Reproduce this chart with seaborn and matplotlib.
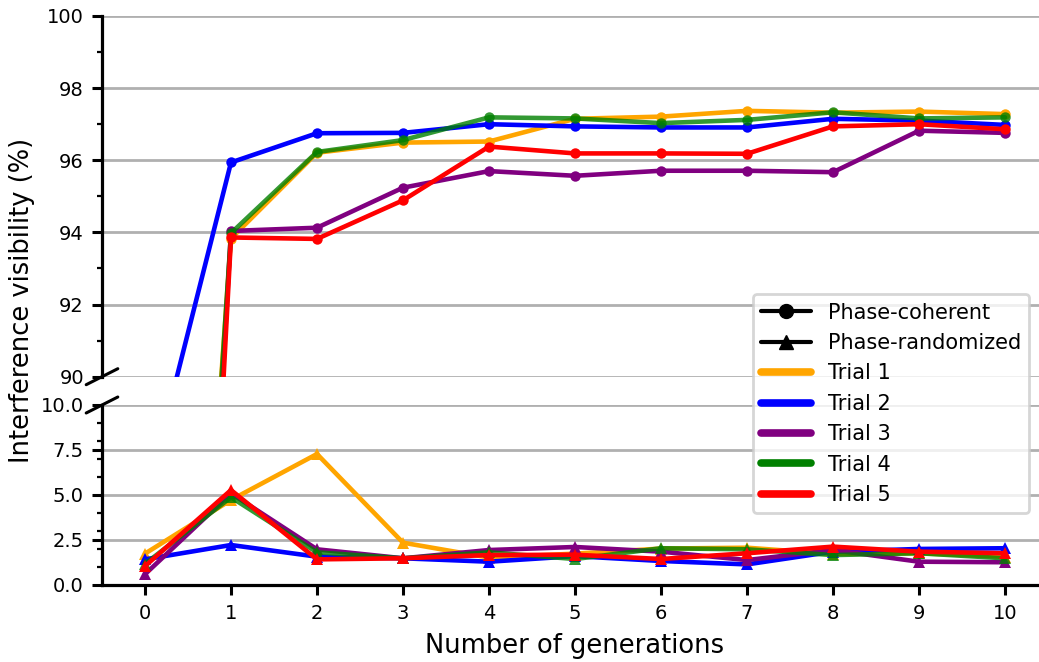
import numpy as np
import pandas as pd
import matplotlib
matplotlib.use("Agg")
import matplotlib.pyplot as plt
from matplotlib.lines import Line2D
from matplotlib.ticker import MultipleLocator
import seaborn as sns

# ---------------- data ----------------
generations = [0, 1, 2, 3, 4, 5, 6, 7, 8, 9, 10]
trial_names = ["Trial 1", "Trial 2", "Trial 3", "Trial 4", "Trial 5"]
trial_colors = ["orange", "blue", "purple", "green", "red"]

# Phase-coherent visibility (%)
coh_t1 = [60.0, 93.83, 96.21, 96.49, 96.52, 97.15, 97.21, 97.37, 97.32, 97.35, 97.28]
coh_t2 = [86.5, 95.94, 96.75, 96.76, 97.00, 96.94, 96.91, 96.91, 97.15, 97.10, 96.98]
coh_t3 = [52.0, 94.04, 94.13, 95.24, 95.70, 95.57, 95.71, 95.71, 95.67, 96.82, 96.76]
coh_t4 = [57.5, 93.98, 96.23, 96.56, 97.19, 97.16, 97.03, 97.12, 97.33, 97.16, 97.19]
coh_t5 = [49.0, 93.86, 93.82, 94.89, 96.38, 96.19, 96.19, 96.18, 96.94, 97.00, 96.86]

# Phase-randomized visibility (%)
rnd_t1 = [1.72, 4.71, 7.27, 2.33, 1.50, 1.72, 2.00, 2.05, 1.70, 1.74, 1.55]
rnd_t2 = [1.40, 2.20, 1.55, 1.46, 1.27, 1.58, 1.31, 1.12, 1.83, 1.98, 2.02]
rnd_t3 = [0.57, 5.08, 1.96, 1.46, 1.92, 2.09, 1.83, 1.36, 1.92, 1.27, 1.24]
rnd_t4 = [1.15, 4.86, 1.79, 1.46, 1.79, 1.42, 2.02, 1.96, 1.64, 1.74, 1.46]
rnd_t5 = [1.02, 5.26, 1.40, 1.46, 1.64, 1.66, 1.42, 1.74, 2.11, 1.83, 1.74]

coh_all = [coh_t1, coh_t2, coh_t3, coh_t4, coh_t5]
rnd_all = [rnd_t1, rnd_t2, rnd_t3, rnd_t4, rnd_t5]

top_yticks = [90, 92, 94, 96, 98, 100]
bot_yticks = [0.0, 2.5, 5.0, 7.5, 10.0]

# ---------------- style ----------------
sns.set_style("white")
plt.rcParams["font.family"] = ["DejaVu Sans"]
for key in ["text.color", "axes.labelcolor", "xtick.color", "ytick.color", "axes.edgecolor"]:
    plt.rcParams[key] = "black"

W, H = 1039, 662
fig = plt.figure(figsize=(W / 100, H / 100), dpi=100)
left_px, right_px = 102, 1048
ax_top = fig.add_axes([left_px / W, 1 - 376.7 / H, (right_px - left_px) / W, (376.7 - 16) / H])
ax_bot = fig.add_axes([left_px / W, 1 - 584.5 / H, (right_px - left_px) / W, (584.5 - 405) / H])

grid_col = "#b0b0b0"
alphas = [1, 1, 1, 0.8, 1]

for name, col, a, ycoh, yrnd in zip(trial_names, trial_colors, alphas, coh_all, rnd_all):
    df_c = pd.DataFrame({"gen": generations, "vis": ycoh})
    df_r = pd.DataFrame({"gen": generations, "vis": yrnd})
    sns.lineplot(data=df_c, x="gen", y="vis", ax=ax_top, color=col, alpha=a,
                 marker="o", markersize=7.5, markeredgewidth=0, linewidth=3.3,
                 legend=False, zorder=3)
    sns.lineplot(data=df_r, x="gen", y="vis", ax=ax_bot, color=col, alpha=a,
                 marker="^", markersize=8.5, markeredgewidth=0, linewidth=3.3,
                 legend=False, zorder=3)

for ax in (ax_top, ax_bot):
    ax.set_xlim(-0.5, 10.5)
    ax.set_xlabel("")
    ax.set_ylabel("")
    ax.yaxis.grid(True, color=grid_col, linewidth=2.0)
    ax.xaxis.grid(False)
    ax.set_axisbelow(True)
    ax.spines["right"].set_visible(False)
    ax.spines["top"].set_visible(False)
    ax.spines["left"].set_linewidth(2.3)
    ax.spines["bottom"].set_linewidth(2.3)
    ax.spines["left"].set_color("black")
    ax.spines["bottom"].set_color("black")
    ax.tick_params(axis="y", which="major", length=7, width=2.2, labelsize=14,
                   pad=6, color="black", labelcolor="black", left=True)
    ax.tick_params(axis="y", which="minor", length=3.5, width=1.6, color="black", left=True)
    ax.set_facecolor("white")

ax_top.set_ylim(90, 100)
ax_top.set_yticks(top_yticks)
ax_top.yaxis.set_minor_locator(MultipleLocator(1))
ax_top.spines["bottom"].set_visible(False)
ax_top.tick_params(axis="x", which="both", bottom=False, labelbottom=False)

ax_bot.set_ylim(0, 10)
ax_bot.set_yticks(bot_yticks)
ax_bot.yaxis.set_minor_locator(MultipleLocator(1))
ax_bot.set_xticks(generations)
ax_bot.tick_params(axis="x", which="major", length=7, width=2.2, labelsize=14,
                   pad=7, color="black", labelcolor="black", bottom=True)

# break marks
top_w = right_px - left_px
dx_top = 15.8 / top_w
dy_top = 8.0 / (376.7 - 16)
dy_bot = 8.0 / (584.5 - 405)
ax_top.plot((-dx_top, dx_top), (-dy_top, dy_top), transform=ax_top.transAxes,
            color="black", lw=2.2, clip_on=False)
ax_bot.plot((-dx_top, dx_top), (1 - dy_bot, 1 + dy_bot), transform=ax_bot.transAxes,
            color="black", lw=2.2, clip_on=False)

# labels
fig.text((145 + 5 * 85.93) / W, 1 - 646 / H,
         "Number of generations", ha="center", va="center", fontsize=18.5, color="black")
fig.text(22 / W, 1 - 300 / H, "Interference visibility (%)", rotation=90,
         ha="center", va="center", fontsize=18.5, color="black")

# legend
handles = [
    Line2D([], [], color="black", marker="o", markersize=10, lw=3),
    Line2D([], [], color="black", marker="^", markersize=10, lw=3),
] + [Line2D([], [], color=c, lw=5.5) for c in trial_colors]
labels = ["Phase-coherent", "Phase-randomized"] + trial_names
leg = fig.legend(handles, labels, loc="upper left",
                 bbox_to_anchor=(752.7 / W, 1 - 294.3 / H), borderaxespad=0,
                 fontsize=15, handlelength=2.4, framealpha=0.8, fancybox=True,
                 labelcolor="black")
leg.get_frame().set_edgecolor("#cccccc")
leg.get_frame().set_linewidth(2)

fig.savefig("out.png", dpi=100)
